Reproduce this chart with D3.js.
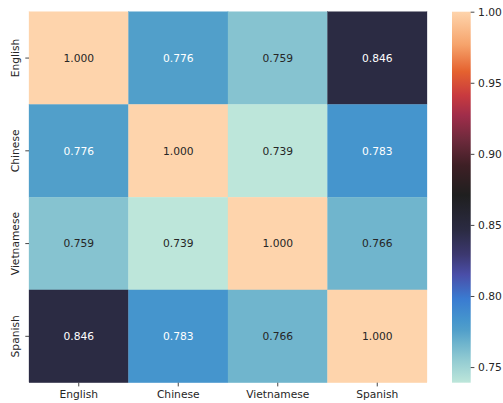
<!DOCTYPE html>
<html>
<head>
<meta charset="utf-8">
<script src="https://cdn.jsdelivr.net/npm/d3@7"></script>
<style>
  body { margin: 0; background: #fff; }
  text { font-family: "DejaVu Sans", sans-serif; fill: #262626; }
  .axis path { display: none; }
  .axis line { stroke: #262626; stroke-width: 0.85; }
  .axis text { font-size: 10.7px; }
</style>
</head>
<body>
<svg width="503" height="403"></svg>
<script>
const languages = ['English', 'Chinese', 'Vietnamese', 'Spanish']
const matrix = [
  [1.000, 0.776, 0.759, 0.846],
  [0.776, 1.000, 0.739, 0.783],
  [0.759, 0.739, 1.000, 0.766],
  [0.846, 0.783, 0.766, 1.000]
]
const colorTicks = [0.75, 0.80, 0.85, 0.90, 0.95, 1.00]

// icefire-like ramp, stops
const rampValues = [0.739, 0.755, 0.766, 0.776, 0.783, 0.798, 0.815, 0.829, 0.846, 0.871, 0.892, 0.910, 0.927, 0.941, 0.958, 0.977, 1.000]
const rampColors = ['#bde6da', '#92cbd2', '#70b5cd', '#519fca', '#4595cd', '#3a7bd1', '#4a4ea8', '#3c3870', '#2b2b43', '#1f1f1f', '#3e1f25', '#6e2a3c', '#a02d4a', '#c83a3f', '#e5622f', '#f6a46c', '#fed4ac']

const svg = d3.select('svg'),
  margin = {top:11.7,left:29},
  width = 398,
  height = 371

const vmin = d3.min(matrix.flat()), vmax = d3.max(matrix.flat())
const color = d3.scaleLinear().domain(rampValues).range(rampColors).interpolate(d3.interpolateRgb).clamp(true)

const x = d3.scaleBand().domain(languages).range([0,width]),
  y = d3.scaleBand().domain(languages).range([0,height])

const g = svg.append('g')
  .attr('transform',`translate(${margin.left},${margin.top})`)

const cells = matrix.flatMap((row,i) => row.map((v,j) => ({r:languages[i], c:languages[j], v})))

g.selectAll('.cell').data(cells).enter().append('rect')
  .attr('class','cell')
  .attr('x',d => x(d.c))
  .attr('y',d => y(d.r))
  .attr('width',x.bandwidth())
  .attr('height',y.bandwidth())
  .attr('fill',d => color(d.v))
  .attr('stroke',d => color(d.v))
  .attr('stroke-width',0.3)

const lum = c => {
  const rgb = d3.rgb(c)
  const f = u => { u/=255; return u <= 0.03928 ? u/12.92 : Math.pow((u+0.055)/1.055,2.4) }
  return 0.2126*f(rgb.r)+0.7152*f(rgb.g)+0.0722*f(rgb.b)
}

g.selectAll('.annot').data(cells).enter().append('text')
  .attr('class','annot')
  .attr('x',d => x(d.c)+x.bandwidth()/2)
  .attr('y',d => y(d.r)+y.bandwidth()/2)
  .attr('text-anchor','middle')
  .attr('dy','0.35em')
  .style('font-size','10.7px')
  .style('fill',d => lum(color(d.v)) > 0.36 ? '#262626' : '#ffffff')
  .text(d => d.v.toFixed(3))

g.append('g')
  .attr('class','axis')
  .attr('transform',`translate(0,${height})`)
  .call(d3.axisBottom(x).tickSize(3.7).tickPadding(3.7))

const yAxis = g.append('g')
  .attr('class','axis')
  .call(d3.axisLeft(y).tickSize(3.7).tickPadding(3.7))
yAxis.selectAll('text')
  .attr('text-anchor','middle')
  .attr('dy',0)
  .attr('x',0)
  .attr('transform','translate(-10.3,0) rotate(-90)')

// colour bar
const cbX = 452, cbW = 18.7
const cbScale = d3.scaleLinear().domain([vmin,vmax]).range([margin.top+height, margin.top])
const defs = svg.append('defs')
const grad = defs.append('linearGradient').attr('id','cbgrad')
  .attr('x1',0).attr('y1',1).attr('x2',0).attr('y2',0)
grad.selectAll('stop').data(rampValues).enter().append('stop')
  .attr('offset',d => (d-vmin)/(vmax-vmin))
  .attr('stop-color',(d,i) => rampColors[i])
svg.append('rect')
  .attr('x',cbX).attr('y',margin.top)
  .attr('width',cbW).attr('height',height)
  .attr('fill','url(#cbgrad)')

svg.append('g')
  .attr('class','axis')
  .attr('transform',`translate(${cbX+cbW},0)`)
  .call(d3.axisRight(cbScale).tickValues(colorTicks).tickFormat(d3.format('.2f')).tickSize(3.7).tickPadding(3.7))
</script>
</body>
</html>
